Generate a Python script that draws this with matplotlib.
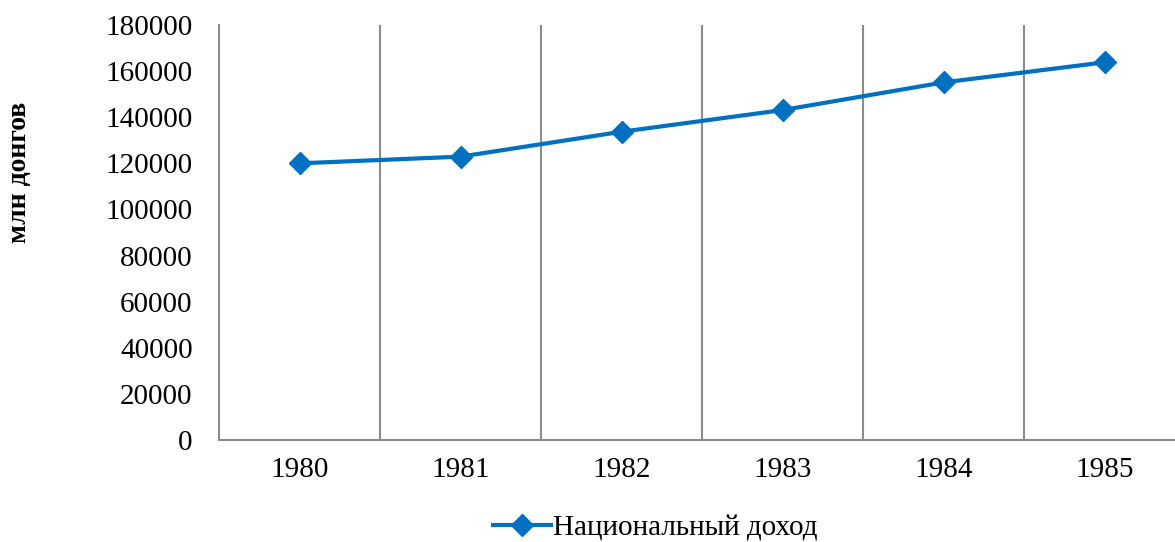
import matplotlib.pyplot as plt

# Данные
years = ['1980', '1981', '1982', '1983', '1984', '1985']
income = [120000, 122900, 133700, 143100, 155100, 163800]
yticks = [0, 20000, 40000, 60000, 80000, 100000, 120000, 140000, 160000, 180000]

plt.rcParams['font.family'] = ['Liberation Serif', 'DejaVu Serif']

W, H = 1175, 542
fig = plt.figure(figsize=(W / 100, H / 100), dpi=100)
ax = fig.add_axes([219 / W, (H - 440) / H, (1185 - 219) / W, (440 - 25) / H])

x = list(range(len(years)))
ax.plot(x, income, color='#0070C0', linewidth=3, marker='D', markersize=11,
        label='Национальный доход', clip_on=False, zorder=3)

ax.set_xlim(-0.5, len(years) - 0.5)
ax.set_ylim(0, 180000)
ax.set_yticks(yticks)
ax.set_yticklabels([str(v) for v in yticks], fontsize=21)
ax.set_xticks(x)
ax.set_xticklabels(years, fontsize=21)
ax.tick_params(length=0, pad=12)
ax.tick_params(axis='y', pad=19)

# вертикальные линии между категориями
for xv in [i + 0.5 for i in range(len(years) - 1)]:
    ax.axvline(xv, color='#8c8c8c', linewidth=1.5, zorder=1)

for s in ['top', 'right']:
    ax.spines[s].set_visible(False)
for s in ['left', 'bottom']:
    ax.spines[s].set_color('#8c8c8c')
    ax.spines[s].set_linewidth(1.5)

fig.text(20 / W, (H - 172) / H, 'млн донгов', rotation=90, fontsize=20,
         fontweight='bold', ha='center', va='center')

fig.legend(loc='center', bbox_to_anchor=(655 / W, (H - 528) / H), frameon=False,
           fontsize=21, handlelength=2.0, handletextpad=0.05)

fig.savefig('out.png', dpi=100)
